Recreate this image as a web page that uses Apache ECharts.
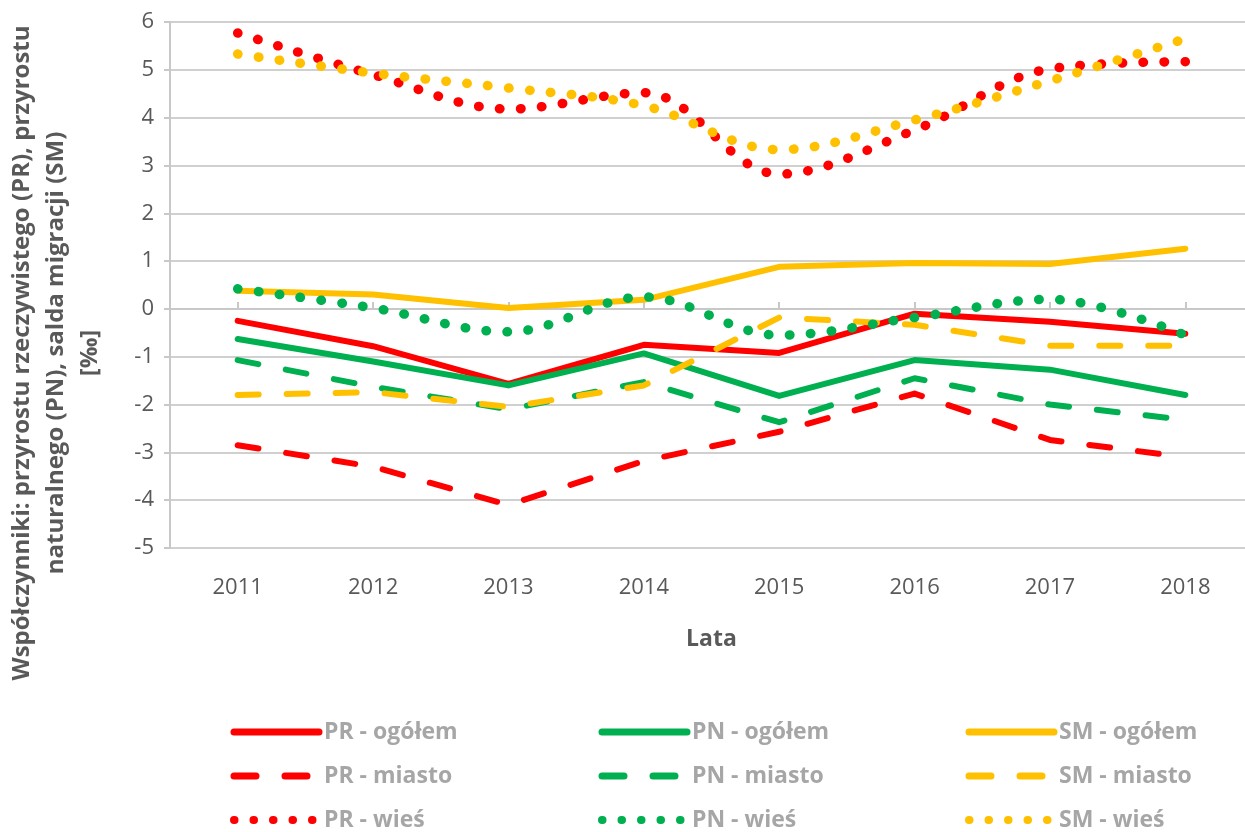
<!DOCTYPE html>
<html>
<head>
<meta charset="utf-8">
<script src="https://cdn.jsdelivr.net/npm/echarts@6/dist/echarts.min.js"></script>
<style>
  html, body { margin: 0; padding: 0; background: #fff; overflow: hidden; }
  /* plot area runs slightly past the right edge, as in the source image */
  #line-chart { width: 1253px; height: 832px; }
</style>
</head>
<body>
<div id="line-chart"></div>
<script>
// Data
const years = ['2011', '2012', '2013', '2014', '2015', '2016', '2017', '2018'];

const prOgolem = [-0.25, -0.78, -1.57, -0.75, -0.92, -0.1, -0.27, -0.52];
const pnOgolem = [-0.63, -1.1, -1.6, -0.93, -1.82, -1.07, -1.27, -1.8];
const smOgolem = [0.38, 0.3, 0.02, 0.19, 0.88, 0.96, 0.94, 1.26];

const prMiasto = [-2.85, -3.3, -4.1, -3.18, -2.57, -1.77, -2.74, -3.1];
const pnMiasto = [-1.07, -1.63, -2.1, -1.53, -2.37, -1.45, -2.0, -2.32];
const smMiasto = [-1.8, -1.74, -2.05, -1.6, -0.18, -0.33, -0.77, -0.77];

const prWies = [5.77, 4.9, 4.18, 4.52, 2.82, 3.74, 5.02, 5.17];
const pnWies = [0.42, 0.02, -0.48, 0.25, -0.55, -0.18, 0.2, -0.55];
const smWies = [5.33, 4.93, 4.62, 4.25, 3.33, 3.95, 4.77, 5.65];

const yTitle = 'Współczynniki: przyrostu rzeczywistego (PR), przyrostu\nnaturalnego (PN), salda migracji (SM)\n[‰]';

const RED = '#FF0000';
const GREEN = '#00B050';
const YELLOW = '#FFC000';

const chartDom = document.getElementById('line-chart');
const myChart = echarts.init(chartDom);

function solid(name, data, color) {
  return {
    name, type: 'line', data, symbol: 'none', xAxisIndex: 0,
    itemStyle: { color },
    lineStyle: { color, width: 6, cap: 'round', join: 'round' },
  };
}
function dashed(name, data, color) {
  return {
    name, type: 'line', data, symbol: 'none', xAxisIndex: 0,
    itemStyle: { color },
    lineStyle: { color, width: 6, type: [21, 28], cap: 'round', join: 'round' },
  };
}
function dotted(name, data, color) {
  return {
    name, type: 'line', data, symbol: 'none', xAxisIndex: 0, smooth: 0.35,
    itemStyle: { color },
    lineStyle: { color, width: 9.5, type: [0.5, 20.5], cap: 'round' },
  };
}

// one legend per column, 3 rows each
function legendCol(left, names) {
  return {
    orient: 'vertical',
    left, top: 714, height: 125,
    itemWidth: 85, itemHeight: 14, itemGap: 18,
    itemStyle: { color: 'rgba(0,0,0,0)', borderWidth: 0 },
    textStyle: { color: '#A6A6A6', fontSize: 23, fontWeight: 'bold', fontFamily: 'Open Sans', lineHeight: 26 },
    data: [
      { name: names[0], lineStyle: { width: 7 } },
      { name: names[1], lineStyle: { type: [22, 29], width: 7 } },
      { name: names[2], lineStyle: { type: [0.5, 19], width: 8 } },
    ],
  };
}

const option = {
  animation: false,
  textStyle: { fontFamily: 'Open Sans' },
  grid: { left: 170, right: 0, top: 22, bottom: 284, containLabel: false },
  legend: [
    legendCol(225, ['PR - ogółem', 'PR - miasto', 'PR - wieś']),
    legendCol(593, ['PN - ogółem', 'PN - miasto', 'PN - wieś']),
    legendCol(960, ['SM - ogółem', 'SM - miasto', 'SM - wieś']),
  ],
  graphic: [
    {
      type: 'text',
      x: 56, y: 353,
      rotation: Math.PI / 2,
      style: {
        text: yTitle,
        fill: '#595959',
        font: 'bold 24px "Open Sans"',
        lineHeight: 34,
        align: 'center',
        verticalAlign: 'middle',
      },
    },
  ],
  xAxis: [
    {
      type: 'category',
      data: years,
      boundaryGap: true,
      axisLine: { show: false, onZero: false },
      axisTick: { show: false },
      axisLabel: { color: '#595959', fontSize: 22, margin: 29 },
      name: 'Lata',
      nameLocation: 'middle',
      nameGap: 80,
      nameTextStyle: { color: '#595959', fontSize: 23, fontWeight: 'bold' },
    },
    {
      type: 'category',
      data: years,
      boundaryGap: true,
      axisLine: { show: true, onZero: true, lineStyle: { color: '#C8C8C8', width: 2 } },
      axisTick: { show: true, alignWithLabel: true, length: 7, lineStyle: { color: '#C8C8C8', width: 2 } },
      axisLabel: { show: false },
    },
  ],
  yAxis: {
    type: 'value',
    min: -5,
    max: 6,
    interval: 1,
    axisLine: { show: true, lineStyle: { color: '#C8C8C8', width: 2 } },
    axisTick: { show: true, length: 6, lineStyle: { color: '#C8C8C8', width: 2 } },
    axisLabel: { color: '#595959', fontSize: 22, margin: 16 },
    splitLine: { lineStyle: { color: '#D0D0D0', width: 2 } },
  },
  series: [
    solid('PR - ogółem', prOgolem, RED),
    solid('PN - ogółem', pnOgolem, GREEN),
    solid('SM - ogółem', smOgolem, YELLOW),
    dashed('PR - miasto', prMiasto, RED),
    dashed('PN - miasto', pnMiasto, GREEN),
    dashed('SM - miasto', smMiasto, YELLOW),
    dotted('PR - wieś', prWies, RED),
    dotted('PN - wieś', pnWies, GREEN),
    dotted('SM - wieś', smWies, YELLOW),
  ],
};

myChart.setOption(option);

window.addEventListener('resize', () => {
  myChart.resize();
});
</script>
</body>
</html>
